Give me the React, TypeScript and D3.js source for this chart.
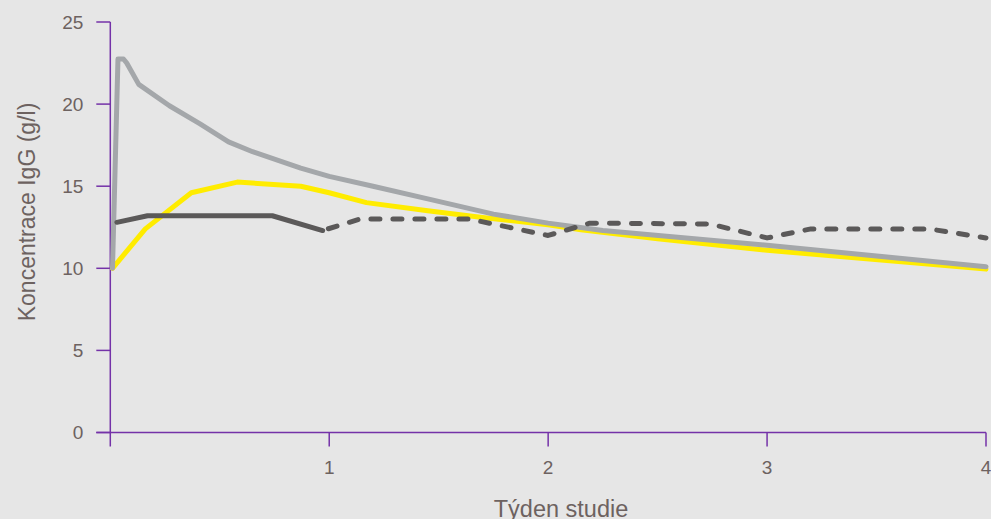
import React from "react";
import * as d3 from "d3";

const W = 991;
const H = 519;

const yTicks = [0, 5, 10, 15, 20, 25];
const xTicks = [1, 2, 3, 4];
const xTitle = "Týden studie";
const yTitle = "Koncentrace IgG (g/l)";

// light gray series (weeks, g/l)
const grayWeeks = [0.01, 0.035, 0.06, 0.075, 0.13, 0.27, 0.41, 0.54, 0.65, 0.87, 1.0, 1.2, 1.46, 1.75, 2.0, 2.25, 3.0, 4.0];
const grayVals = [10.0, 22.75, 22.75, 22.5, 21.2, 19.9, 18.8, 17.7, 17.1, 16.1, 15.6, 15.0, 14.2, 13.3, 12.75, 12.3, 11.4, 10.1];

// yellow series
const yellowWeeks = [0.01, 0.16, 0.37, 0.58, 0.87, 1.0, 1.17, 1.45, 1.7, 2.0, 2.15, 2.5, 3.0, 4.0];
const yellowVals = [10.0, 12.4, 14.6, 15.25, 15.0, 14.6, 14.0, 13.5, 13.1, 12.65, 12.35, 11.8, 11.1, 9.95];

// dark gray solid series
const darkWeeks = [0.03, 0.17, 0.74, 0.97];
const darkVals = [12.8, 13.2, 13.2, 12.3];

// dark gray dashed series
const dashWeeks = [0.97, 1.14, 1.64, 2.0, 2.19, 2.74, 3.0, 3.2, 3.74, 4.0];
const dashVals = [12.3, 13.0, 13.0, 12.0, 12.75, 12.7, 11.85, 12.4, 12.4, 11.85];

const AXIS = "#7432a8";
const TEXT = "#6d6260";
const FONT = "'Liberation Sans', Arial, sans-serif";

export default function App() {
  const x = d3.scaleLinear().domain([0, 4]).range([110.3, 986]);
  const y = d3.scaleLinear().domain([0, 25]).range([432.5, 22]);

  const line = d3
    .line<[number, number]>()
    .x((d) => x(d[0]))
    .y((d) => y(d[1]));

  const zip = (a: number[], b: number[]) => a.map((v, i) => [v, b[i]] as [number, number]);

  const x0 = x(0);
  const y0 = y(0);

  return (
    <svg
      width={W}
      height={H}
      style={{ position: "absolute", left: 0, top: 0, background: "#e6e6e6" }}
    >
      <rect x={0} y={0} width={W} height={H} fill="#e6e6e6" />
      {/* axes */}
      <line x1={x0} x2={x0} y1={y(25)} y2={y0 + 14} stroke={AXIS} strokeWidth={1.5} />
      <line x1={x0 - 14} x2={x(4)} y1={y0} y2={y0} stroke={AXIS} strokeWidth={1.5} />
      {yTicks.map((t) => (
        <g key={"y" + t}>
          <line x1={x0 - 14} x2={x0} y1={y(t)} y2={y(t)} stroke={AXIS} strokeWidth={1.5} />
          <text
            x={x0 - 27}
            y={y(t)}
            dy="0.35em"
            textAnchor="end"
            fontFamily={FONT}
            fontSize={19}
            fill={TEXT}
          >
            {t}
          </text>
        </g>
      ))}
      {xTicks.map((t) => (
        <g key={"x" + t}>
          <line x1={x(t)} x2={x(t)} y1={y0} y2={y0 + 14} stroke={AXIS} strokeWidth={1.5} />
          <text
            x={x(t)}
            y={y0 + 35}
            dy="0.35em"
            textAnchor="middle"
            fontFamily={FONT}
            fontSize={19}
            fill={TEXT}
          >
            {t}
          </text>
        </g>
      ))}
      <text
        x={561}
        y={509}
        dy="0.35em"
        textAnchor="middle"
        fontFamily={FONT}
        fontSize={23.5}
        fill={TEXT}
      >
        {xTitle}
      </text>
      <text
        transform={`translate(27,${212}) rotate(-90)`}
        dy="0.35em"
        textAnchor="middle"
        fontFamily={FONT}
        fontSize={23}
        fill={TEXT}
      >
        {yTitle}
      </text>

      {/* series */}
      <path
        d={line(zip(yellowWeeks, yellowVals)) || ""}
        fill="none"
        stroke="#ffec00"
        strokeWidth={5}
        strokeLinejoin="round"
        strokeLinecap="round"
      />
      <path
        d={line(zip(grayWeeks, grayVals)) || ""}
        fill="none"
        stroke="#a4a7aa"
        strokeWidth={5}
        strokeLinejoin="round"
        strokeLinecap="round"
      />
      <path
        d={line(zip(darkWeeks, darkVals)) || ""}
        fill="none"
        stroke="#5b5959"
        strokeWidth={5}
        strokeLinejoin="round"
        strokeLinecap="round"
      />
      <path
        d={line(zip(dashWeeks, dashVals)) || ""}
        fill="none"
        stroke="#5b5959"
        strokeWidth={5}
        strokeDasharray="9,13"
        strokeDashoffset={-6}
        strokeLinejoin="round"
        strokeLinecap="round"
      />
    </svg>
  );
}
